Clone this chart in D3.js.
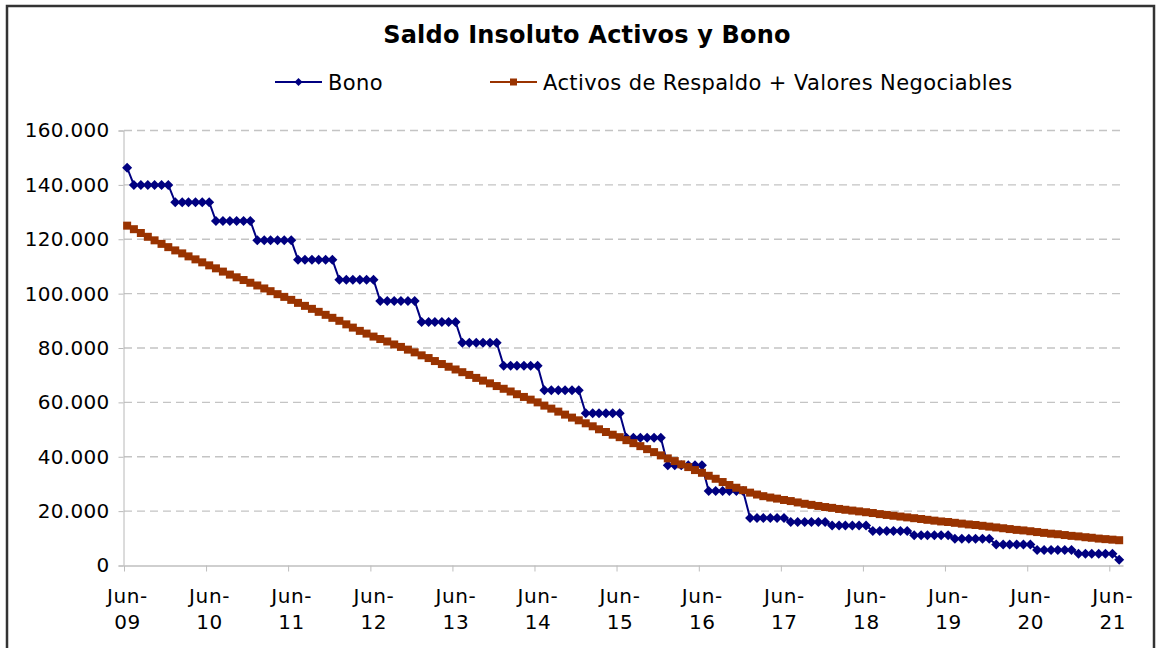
<!DOCTYPE html>
<html>
<head>
<meta charset="utf-8">
<script src="https://cdn.jsdelivr.net/npm/d3@7"></script>
<style>
  body { margin: 0; background: #fff; }
  svg { display: block; }
  text { font-family: "DejaVu Sans", Verdana, sans-serif; fill: #000; }
</style>
</head>
<body>
<div id="chart"></div>
<script>
// monthly dates, Jun-09 .. Jul-21 (mid month)
var months = d3.timeMonth.range(new Date(2009, 5, 1), new Date(2021, 7, 1))
  .map(function(d){ return new Date(d.getFullYear(), d.getMonth(), 15); });

var seriesNames = ["Bono", "Activos de Respaldo + Valores Negociables"];

var bono = [
  146300,
  140000,140000,140000,140000,140000,140000,
  133600,133600,133600,133600,133600,133600,
  126700,126700,126700,126700,126700,126700,
  119600,119600,119600,119600,119600,119600,
  112500,112500,112500,112500,112500,112500,
  105100,105100,105100,105100,105100,105100,
  97300,97300,97300,97300,97300,97300,
  89600,89600,89600,89600,89600,89600,
  81900,81900,81900,81900,81900,81900,
  73500,73500,73500,73500,73500,73500,
  64500,64500,64500,64500,64500,64500,
  56000,56000,56000,56000,56000,56000,
  47000,47000,47000,47000,47000,47000,
  36900,36900,36900,36900,36900,36900,
  27400,27400,27400,27400,27400,27400,
  17500,17500,17500,17500,17500,17500,
  16000,16000,16000,16000,16000,16000,
  14700,14700,14700,14700,14700,14700,
  12700,12700,12700,12700,12700,12700,
  11100,11100,11100,11100,11100,11100,
  9800,9800,9800,9800,9800,9800,
  7700,7700,7700,7700,7700,7700,
  5700,5700,5700,5700,5700,5700,
  4300,4300,4300,4300,4300,4300,
  2100
];

var activos = [
  125000,123700,122300,120900,119600,118300,117100,115900,114800,113700,112600,111500,
  110400,109300,108100,107000,106000,105000,104000,103000,101900,100900,99800,98800,
  97700,96600,95500,94400,93300,92200,91100,90000,88700,87500,86300,85300,
  84200,83300,82400,81300,80400,79400,78400,77300,76300,75200,74100,73100,
  72100,71100,70100,69000,68000,67000,66000,65000,64000,63000,62000,61000,
  60000,58800,57700,56600,55500,54400,53400,52300,51200,50100,49100,48100,
  47200,46100,45000,43900,42800,41700,40500,39400,38400,37200,36200,35100,
  34100,33000,31900,30700,29600,28600,27700,26800,26100,25500,25000,24600,
  24100,23700,23200,22700,22300,21900,21500,21200,20800,20500,20200,19900,
  19600,19300,18900,18600,18300,18000,17700,17400,17100,16800,16500,16200,
  16000,15700,15400,15100,14900,14600,14300,14000,13700,13400,13100,12900,
  12600,12300,12000,11700,11500,11200,10900,10700,10400,10200,9900,9700,
  9500,9300
];

var yTicks = [0, 20000, 40000, 60000, 80000, 100000, 120000, 140000, 160000];
var xTickDates = d3.range(2009, 2022).map(function(y){ return new Date(y, 5, 1); });

var colors = ["#000080", "#993300"];

var width = 1156, height = 648;
var plot = { left: 124, right: 1123, top: 130.5, bottom: 565.5 };

var svg = d3.select('#chart').append('svg')
  .attr("width", width)
  .attr("height", height);

svg.append('rect')
  .attr("width", width).attr("height", height)
  .attr("fill", "#fff");

// chart frame
svg.append('rect')
  .attr("x", 7).attr("y", 6)
  .attr("width", 1147).attr("height", 700)
  .attr("fill", "none")
  .attr("stroke", "#333")
  .attr("stroke-width", 2.5);

var x = d3.scaleTime()
  .domain([new Date(2009, 5, 1), new Date(2021, 7, 1)])
  .range([plot.left, plot.right]);

var y = d3.scaleLinear()
  .domain([0, 160000])
  .range([plot.bottom, plot.top]);

var es = d3.formatLocale({ decimal: ",", thousands: ".", grouping: [3], currency: ["$", ""] });
var fmt = es.format(",.0f");

// gridlines
svg.append('g').selectAll('line')
  .data(yTicks.slice(1))
  .enter().append('line')
  .attr("x1", plot.left).attr("x2", plot.right)
  .attr("y1", function(d){ return y(d); })
  .attr("y2", function(d){ return y(d); })
  .attr("stroke", "#c4c4c4")
  .attr("stroke-width", 1.3)
  .attr("stroke-dasharray", "8,5");

// y axis
var yAxis = svg.append('g')
  .attr("transform", "translate(" + (plot.left - 0.5) + ",0)")
  .call(d3.axisLeft(y).tickValues(yTicks).tickFormat(fmt).tickSize(5).tickPadding(9));
yAxis.select('.domain').attr("stroke", "#b8b8b8");
yAxis.selectAll('.tick line').attr("stroke", "#b8b8b8");
yAxis.selectAll('text')
  .attr("font-size", "20px")
  .attr("letter-spacing", "0.3px")
  .attr("fill", "#000")
  .attr("font-family", "DejaVu Sans");

// x axis
var xAxis = svg.append('g')
  .attr("transform", "translate(0," + plot.bottom + ")")
  .call(d3.axisBottom(x).tickValues(xTickDates).tickFormat("").tickSize(6).tickSizeOuter(0));
xAxis.select('.domain').attr("stroke", "#cfcfcf").attr("stroke-width", 2);
xAxis.selectAll('.tick line').attr("stroke", "#bdbdbd");

var xLabels = svg.append('g').selectAll('text')
  .data(xTickDates)
  .enter().append('text')
  .attr("text-anchor", "middle")
  .attr("font-size", "20px")
  .attr("letter-spacing", "0.6px")
  .attr("x", function(d){ return x(d) + 3.5; })
  .attr("y", 603);
xLabels.append('tspan')
  .attr("x", function(d){ return x(d) + 3.5; })
  .text("Jun-");
xLabels.append('tspan')
  .attr("x", function(d){ return x(d) + 3.5; })
  .attr("dy", 26)
  .text(function(d){ return d3.timeFormat("%y")(d); });

// series
var series = [bono, activos];
var line = d3.line()
  .x(function(d, i){ return x(months[i]); })
  .y(function(d){ return y(d); });

var diamond = function(s){ return "M0," + (-s) + "L" + s + ",0L0," + s + "L" + (-s) + ",0Z"; };

series.forEach(function(values, k){
  var g = svg.append('g');
  g.append('path')
    .datum(values)
    .attr("d", line)
    .attr("fill", "none")
    .attr("stroke", colors[k])
    .attr("stroke-width", 2);
  if (k == 0) {
    g.selectAll('path.m')
      .data(values)
      .enter().append('path')
      .attr("class", "m")
      .attr("d", diamond(5))
      .attr("transform", function(d, i){ return "translate(" + x(months[i]) + "," + y(d) + ")"; })
      .attr("fill", colors[k]);
  } else {
    g.selectAll('rect')
      .data(values)
      .enter().append('rect')
      .attr("x", function(d, i){ return x(months[i]) - 4; })
      .attr("y", function(d){ return y(d) - 4; })
      .attr("width", 8).attr("height", 8)
      .attr("fill", colors[k]);
  }
});

// title
svg.append('text')
  .attr("x", 587).attr("y", 43)
  .attr("text-anchor", "middle")
  .attr("font-size", "24px")
  .attr("font-weight", "bold")
  .attr("letter-spacing", "0.2px")
  .text("Saldo Insoluto Activos y Bono");

// legend
var legendX = [275, 490];
var legend = svg.append('g').selectAll('g')
  .data(seriesNames)
  .enter().append('g')
  .attr("transform", function(d, i){ return "translate(" + legendX[i] + ",82)"; });
legend.append('line')
  .attr("x1", 0).attr("x2", 47)
  .attr("stroke", function(d, i){ return colors[i]; })
  .attr("stroke-width", 2);
legend.append('path')
  .attr("d", function(d, i){
    return i == 0 ? diamond(4) : "M-3.5,-3.5h7v7h-7Z";
  })
  .attr("transform", "translate(23.5,0)")
  .attr("fill", function(d, i){ return colors[i]; });
legend.append('text')
  .attr("x", 53).attr("y", 7.5)
  .attr("font-size", "21px")
  .attr("letter-spacing", "0.4px")
  .text(function(d){ return d; });
</script>
</body>
</html>
